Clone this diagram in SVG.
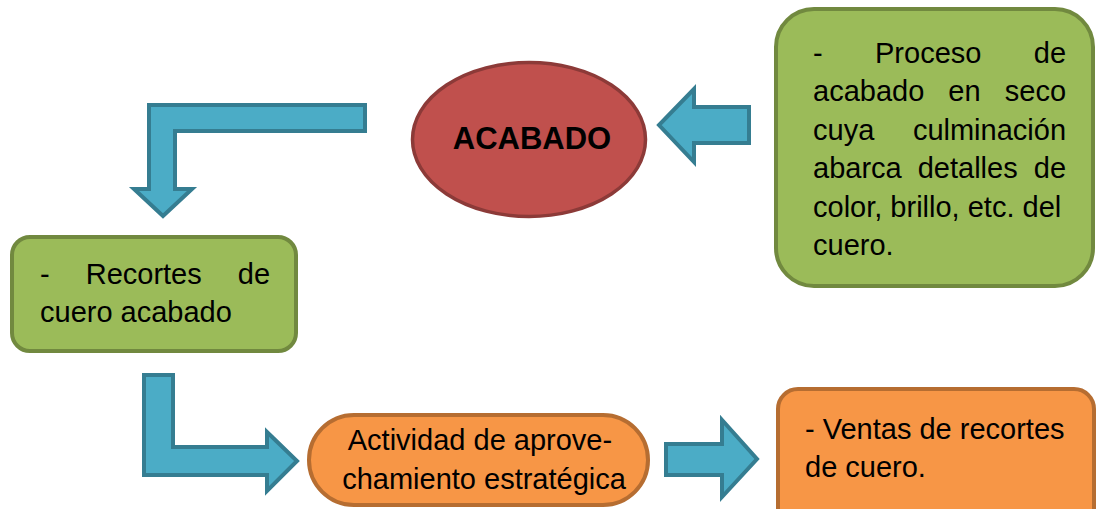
<svg xmlns="http://www.w3.org/2000/svg" width="1096" height="509" viewBox="0 0 1096 509">
  <style>
    .arrow { fill: #4BACC6; stroke: #357D91; stroke-width: 4; stroke-linejoin: miter; }
    .green { fill: #9BBB59; stroke: #71893F; stroke-width: 4; }
    .orange { fill: #F79646; stroke: #B66D31; stroke-width: 4; }
    .red { fill: #C0504D; stroke: #8C3A38; stroke-width: 3.5; }
    .t { font-family: "Liberation Sans", Arial, sans-serif; font-size: 29px; fill: #000; }
    .tb { font-family: "Liberation Sans", Arial, sans-serif; font-size: 31px; font-weight: bold; fill: #000; }
  </style>
  <rect width="1096" height="509" fill="#ffffff"/>

  <g id="connectors">
    <path class="arrow" d="M365,105 H149 V189 H134 L163,216 L192,189 H175 V131 H365 Z"/>
    <path class="arrow" d="M749,107 H694 V89 L659,125 L694,162 V143 H749 Z"/>
    <path class="arrow" d="M144,375 H173 V447 H267 V432 L297,461 L267,491 V475 H144 Z"/>
    <path class="arrow" d="M666,444 H722 V420 L757,459 L722,497 V475 H666 Z"/>
  </g>

  <g id="node-acabado">
    <ellipse class="red" cx="529" cy="139.5" rx="116.5" ry="77"/>
    <text class="tb" x="532" y="149" text-anchor="middle">ACABADO</text>
  </g>

  <g id="node-proceso">
    <rect class="green" x="776" y="9" width="317" height="277" rx="38" ry="38"/>
    <text class="t">
      <tspan x="813" y="62.5">-</tspan><tspan x="875" y="62.5">Proceso</tspan><tspan x="1033.8" y="62.5">de</tspan>
      <tspan x="813" y="101">acabado</tspan><tspan x="948.3" y="101">en</tspan><tspan x="1004.8" y="101">seco</tspan>
      <tspan x="813" y="139.5">cuya</tspan><tspan x="912.9" y="139.5">culminación</tspan>
      <tspan x="813" y="178">abarca</tspan><tspan x="917.7" y="178">detalles</tspan><tspan x="1033.8" y="178">de</tspan>
      <tspan x="813" y="216.5">color, brillo, etc. del</tspan>
      <tspan x="813" y="255">cuero.</tspan>
    </text>
  </g>

  <g id="node-recortes">
    <rect class="green" x="12" y="237" width="284" height="114" rx="18" ry="18"/>
    <text class="t">
      <tspan x="40" y="284">-</tspan><tspan x="85.7" y="284">Recortes</tspan><tspan x="237.8" y="284">de</tspan>
      <tspan x="40" y="322">cuero acabado</tspan>
    </text>
  </g>

  <g id="node-actividad">
    <rect class="orange" x="309" y="415" width="339" height="90" rx="45" ry="45"/>
    <text class="t" text-anchor="middle">
      <tspan x="484" y="450">Actividad de aprove-</tspan>
      <tspan x="484" y="489">chamiento estratégica</tspan>
    </text>
  </g>

  <g id="node-ventas">
    <rect class="orange" x="778" y="389" width="316" height="140" rx="20" ry="20"/>
    <text class="t">
      <tspan x="805" y="439">- Ventas de recortes</tspan>
      <tspan x="805" y="477">de cuero.</tspan>
    </text>
  </g>
</svg>
